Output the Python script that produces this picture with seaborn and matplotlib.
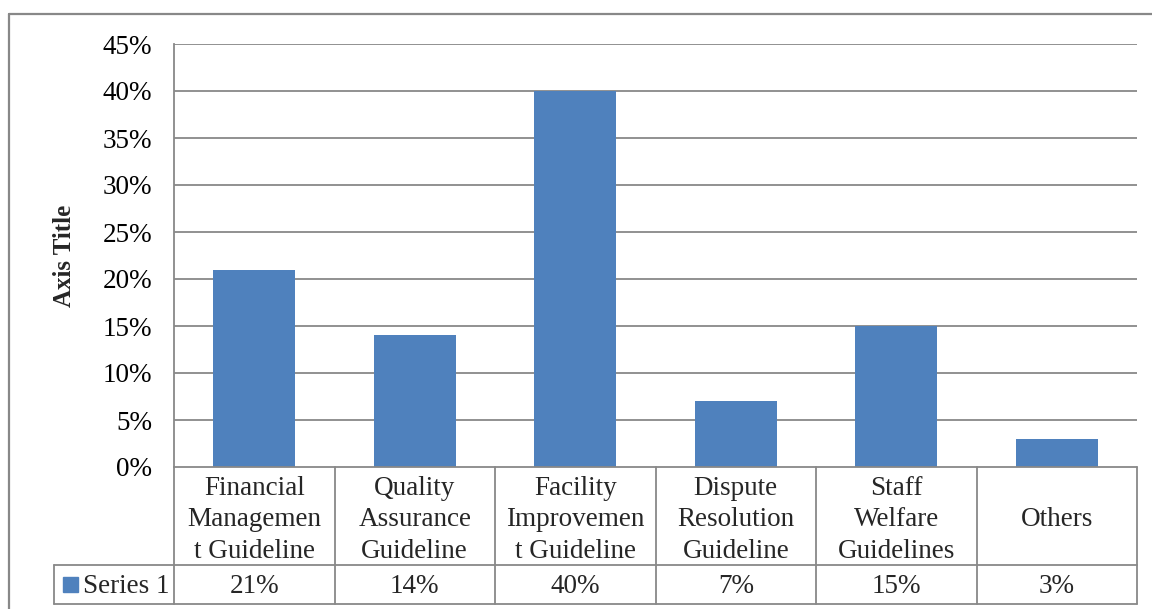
import matplotlib
matplotlib.use("Agg")
import matplotlib.pyplot as plt
import matplotlib.transforms as mtransforms
from matplotlib.lines import Line2D
from matplotlib.patches import Rectangle
import seaborn as sns
import pandas as pd

categories = [
    "Financial\nManagemen\nt Guideline",
    "Quality\nAssurance\nGuideline",
    "Facility\nImprovemen\nt Guideline",
    "Dispute\nResolution\nGuideline",
    "Staff\nWelfare\nGuidelines",
    "Others",
]
values = [21, 14, 40, 7, 15, 3]
series_name = "Series 1"
y_ticks = [0, 5, 10, 15, 20, 25, 30, 35, 40, 45]

BAR = "#4F81BD"
GRID = "#888888"
FONT = "Liberation Serif"
FS = 19.5

sns.set_theme(style="white")
plt.rcParams["font.family"] = [FONT, "DejaVu Serif"]

df = pd.DataFrame({"cat": categories, "val": values})

W, H = 1152, 609
fig = plt.figure(figsize=(W / 100, H / 100), dpi=100)
fig.patch.set_facecolor("white")

left, right, top, bottom = 174, 1137, 44, 467
ax = fig.add_axes([left / W, 1 - bottom / H, (right - left) / W, (bottom - top) / H])

sns.barplot(data=df, x="cat", y="val", color=BAR, width=0.51, saturation=1,
            edgecolor="none", ax=ax, zorder=3)

ax.set_xlim(-0.5, len(categories) - 0.5)
ax.set_ylim(0, 45)
ax.set_yticks(y_ticks)
ax.set_yticklabels([f"{t}%" for t in y_ticks], fontsize=FS, color="black")
ax.tick_params(axis="y", length=0, pad=15.5)
ax.tick_params(axis="x", length=0, labelbottom=False)
ax.set_xlabel("")
ax.set_ylabel("Axis Title", fontsize=FS - 1.5, fontweight="bold", labelpad=19.5)
for t in y_ticks[1:]:
    ax.axhline(t, color=GRID, lw=1.3, zorder=1)
for s in ["top", "right", "bottom"]:
    ax.spines[s].set_visible(False)
ax.spines["left"].set_color(GRID)
ax.spines["left"].set_linewidth(1.3)
ax.set_facecolor("white")

# data table below the axes: x in data units, y in axes fraction
trans = mtransforms.blended_transform_factory(ax.transData, ax.transAxes)
axh = bottom - top
row1 = -(565 - bottom) / axh
row2 = -(604 - bottom) / axh
n = len(categories)
label_left = -0.5 - 0.75
px = 1 / axh

def line(xs, ys):
    ax.add_line(Line2D(xs, ys, transform=trans, color=GRID, lw=1.3,
                       clip_on=False, zorder=4))

line([-0.5, n - 0.5], [0, 0])
line([label_left, n - 0.5], [row1, row1])
line([label_left, n - 0.5], [row2, row2])
line([label_left, label_left], [row1, row2])
for i in range(n + 1):
    line([i - 0.5, i - 0.5], [0, row2])

cat_y = row1 / 2 - 4 * px
val_y = (row1 + row2) / 2 - 2 * px
for i, (c, v) in enumerate(zip(categories, values)):
    ax.text(i, cat_y, c, transform=trans, ha="center", va="center",
            fontsize=FS, linespacing=1.32, clip_on=False)
    ax.text(i, val_y, f"{v}%", transform=trans, ha="center",
            va="center", fontsize=FS, clip_on=False)

# legend key and series name in the table's label cell
ax.add_patch(Rectangle((label_left + 0.06, (row1 + row2) / 2 - 0.017), 0.09, 0.034,
                       transform=trans, color=BAR, clip_on=False, zorder=5))
ax.text(label_left + 0.18, val_y, series_name, transform=trans,
        ha="left", va="center", fontsize=FS, clip_on=False)

# chart area border
fx0 = 9 / W
fy0 = 1 - 14 / H
fig.add_artist(Line2D([fx0, fx0], [0, fy0], transform=fig.transFigure,
                      color=GRID, lw=1.6))
fig.add_artist(Line2D([fx0, 1], [fy0, fy0], transform=fig.transFigure,
                      color=GRID, lw=1.6))

fig.savefig("out.png", dpi=100, facecolor="white")
